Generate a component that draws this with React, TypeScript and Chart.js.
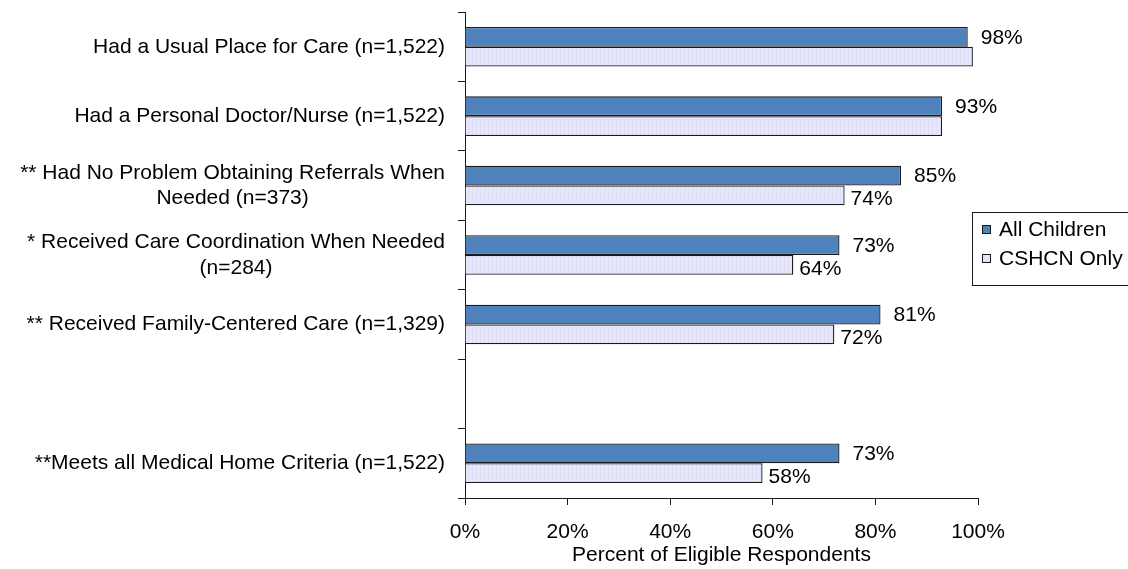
import { useEffect, useRef } from 'react';
import { Chart, registerables } from 'chart.js';

Chart.register(...registerables);

// Survey measures (y axis), one array of lines per row; the blank row is a spacer.
const categories: string[][] = [
  ['Had a Usual Place for Care (n=1,522)'],
  ['Had a Personal Doctor/Nurse (n=1,522)'],
  ['** Had No Problem Obtaining Referrals When', 'Needed (n=373)'],
  ['* Received Care Coordination When Needed', '(n=284)'],
  ['** Received Family-Centered Care (n=1,329)'],
  [''],
  ['**Meets all Medical Home Criteria (n=1,522)'],
];

const seriesNames = ['All Children', 'CSHCN Only'];
const allChildren = [98, 93, 85, 73, 81, null, 73];
const cshcnOnly = [99, 93, 74, 64, 72, null, 58];
const allChildrenLabelShown = [true, true, true, true, true, false, true];
const cshcnLabelShown = [false, false, true, true, true, false, true];

const xTicks = [0, 20, 40, 60, 80, 100];
const xTitle = 'Percent of Eligible Respondents';

const FONT = "'Liberation Sans', Arial, Helvetica, sans-serif";
const FONT_SIZE = 21;
const INK = '#000000';
const AXIS = '#1a1a1a';
const BLUE = '#4F81BD';

function makeStripePattern(): CanvasPattern | string {
  const c = document.createElement('canvas');
  c.width = 4;
  c.height = 4;
  const g = c.getContext('2d');
  if (!g) return '#E6E6FA';
  g.fillStyle = '#E7E7FB';
  g.fillRect(0, 0, 4, 4);
  g.fillStyle = '#DEDEF5';
  g.fillRect(0, 0, 1, 4);
  return g.createPattern(c, 'repeat') || '#E6E6FA';
}

export default function App() {
  const canvasRef = useRef<HTMLCanvasElement | null>(null);

  useEffect(() => {
    const canvas = canvasRef.current;
    if (!canvas) return;
    const lavender = makeStripePattern();

    // Multi-line category labels: widest line right-aligned, others centred under it.
    const categoryLabels = {
      id: 'categoryLabels',
      afterDraw(chart: any) {
        const { ctx } = chart;
        const ys = chart.scales.y;
        const rightEdge = ys.right - 20;
        const lineH = 25.5;
        ctx.save();
        ctx.font = `${FONT_SIZE}px ${FONT}`;
        ctx.fillStyle = INK;
        ctx.textBaseline = 'middle';
        ctx.textAlign = 'center';
        categories.forEach((lines, i) => {
          const yc = ys.getPixelForValue(i);
          const widest = Math.max(...lines.map((l) => ctx.measureText(l).width));
          const cx = rightEdge - widest / 2;
          lines.forEach((line, j) => {
            ctx.fillText(line, cx, yc + (j - (lines.length - 1) / 2) * lineH);
          });
        });
        ctx.restore();
      },
    };

    // Percent labels placed just past the end of each bar.
    const valueLabels = {
      id: 'valueLabels',
      afterDatasetsDraw(chart: any) {
        const { ctx } = chart;
        const specs = [
          { values: allChildren, shown: allChildrenLabelShown, gap: 13, dy: 1 },
          { values: cshcnOnly, shown: cshcnLabelShown, gap: 6, dy: 4 },
        ];
        ctx.save();
        ctx.font = `${FONT_SIZE}px ${FONT}`;
        ctx.fillStyle = INK;
        ctx.textAlign = 'left';
        ctx.textBaseline = 'middle';
        specs.forEach((s, d) => {
          const meta = chart.getDatasetMeta(d);
          s.values.forEach((v, i) => {
            if (v == null || !s.shown[i]) return;
            const el = meta.data[i];
            ctx.fillText(`${v}%`, el.x + s.gap, el.y + s.dy);
          });
        });
        ctx.restore();
      },
    };

    // Boxed legend at the right edge, overlapping the plot's right margin.
    const boxedLegend = {
      id: 'boxedLegend',
      afterDraw(chart: any) {
        const { ctx } = chart;
        const left = 972.5;
        const top = 212.5;
        const bottom = 285.5;
        const rows = [230, 259];
        const fills = [BLUE, lavender];
        ctx.save();
        ctx.fillStyle = '#ffffff';
        ctx.fillRect(left, top, 200, bottom - top);
        ctx.strokeStyle = AXIS;
        ctx.lineWidth = 1;
        ctx.strokeRect(left, top, 200, bottom - top);
        ctx.font = `${FONT_SIZE}px ${FONT}`;
        ctx.textBaseline = 'middle';
        ctx.textAlign = 'left';
        seriesNames.forEach((name, i) => {
          const y = rows[i];
          ctx.fillStyle = fills[i] as any;
          ctx.fillRect(982.5, y - 4.5, 8, 8);
          ctx.strokeStyle = AXIS;
          ctx.strokeRect(982.5, y - 4.5, 8, 8);
          ctx.fillStyle = INK;
          ctx.fillText(name, 999, y);
        });
        ctx.restore();
      },
    };

    const chart = new Chart(canvas, {
      type: 'bar',
      data: {
        labels: categories,
        datasets: [
          {
            label: seriesNames[0],
            data: allChildren,
            backgroundColor: BLUE,
            borderColor: AXIS,
            borderWidth: 1.3,
            categoryPercentage: 0.57,
            barPercentage: 1,
          },
          {
            label: seriesNames[1],
            data: cshcnOnly,
            backgroundColor: lavender as any,
            borderColor: AXIS,
            borderWidth: 1.3,
            categoryPercentage: 0.57,
            barPercentage: 1,
          },
        ],
      },
      options: {
        indexAxis: 'y',
        animation: false,
        responsive: true,
        maintainAspectRatio: false,
        layout: { padding: { top: 12, left: 0, right: 150, bottom: 0 } },
        plugins: {
          legend: { display: false },
          tooltip: { enabled: false },
          title: { display: false },
        },
        scales: {
          x: {
            type: 'linear',
            min: xTicks[0],
            max: xTicks[xTicks.length - 1],
            afterBuildTicks(scale: any) {
              scale.ticks = xTicks.map((v) => ({ value: v }));
            },
            afterFit(scale: any) {
              scale.height = 71;
            },
            ticks: {
              padding: 15,
              color: INK,
              font: { family: FONT, size: FONT_SIZE },
              callback: (v: any) => `${v}%`,
              maxRotation: 0,
            },
            grid: {
              drawOnChartArea: false,
              drawTicks: true,
              tickLength: 7,
              color: AXIS,
              lineWidth: 1,
            },
            border: { display: true, color: AXIS, width: 1 },
            title: {
              display: true,
              text: xTitle,
              color: INK,
              font: { family: FONT, size: FONT_SIZE },
              padding: { top: 0, bottom: 1 },
            },
          },
          y: {
            type: 'category',
            offset: true,
            afterFit(scale: any) {
              scale.width = 465;
            },
            ticks: { display: false },
            grid: {
              offset: true,
              drawOnChartArea: false,
              drawTicks: true,
              tickLength: 7,
              color: AXIS,
              lineWidth: 1,
            },
            border: { display: true, color: AXIS, width: 1 },
          },
        },
      },
      plugins: [categoryLabels, valueLabels, boxedLegend],
    });

    return () => chart.destroy();
  }, []);

  return (
    <div
      style={{
        position: 'fixed',
        left: 0,
        top: 0,
        width: 1128,
        height: 569,
        background: '#ffffff',
      }}
    >
      <canvas ref={canvasRef} />
    </div>
  );
}
